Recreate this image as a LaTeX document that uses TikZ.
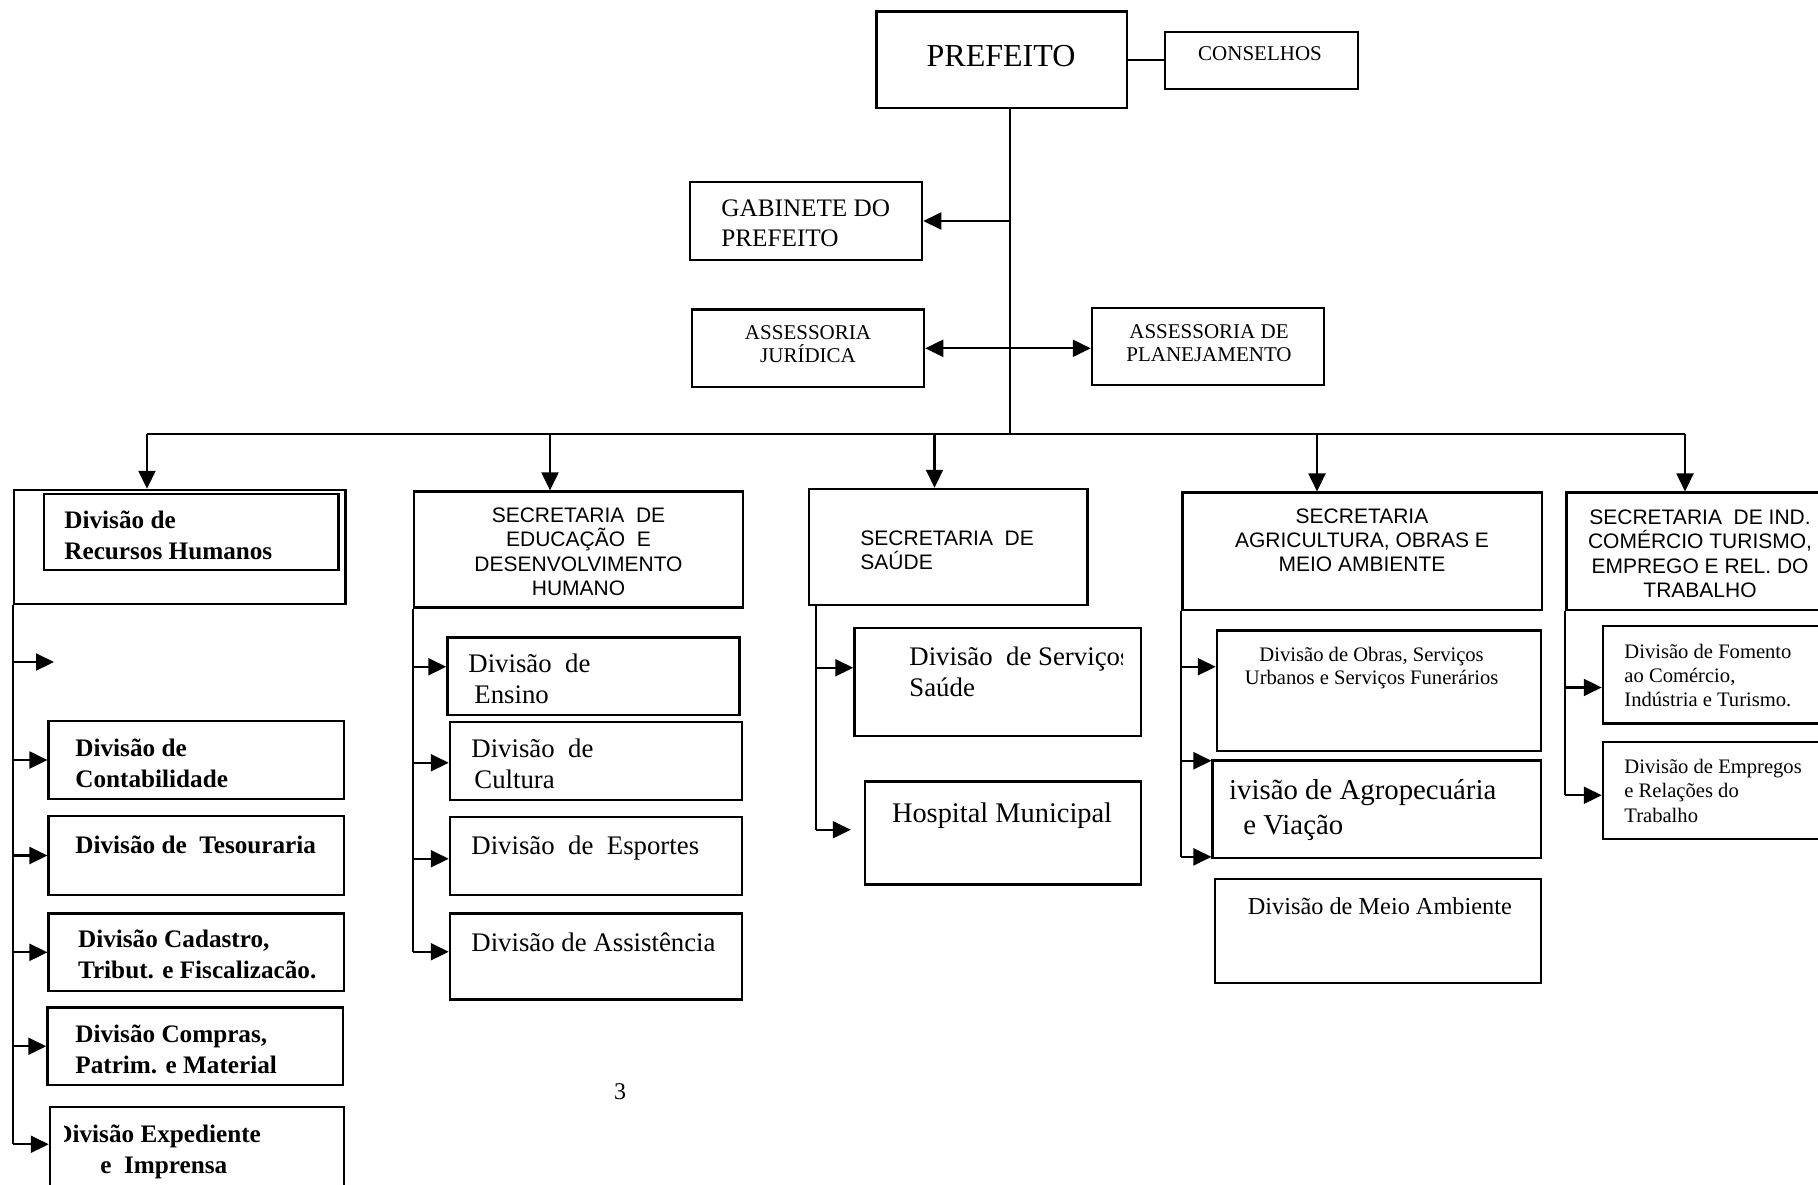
\documentclass[tikz,border=0pt]{standalone}
\usepackage{fontspec}
\setmainfont{Liberation Serif}
\setsansfont{Liberation Sans}
\usetikzlibrary{arrows.meta,calc,fit}
\newcommand\fsz[2]{\fontsize{#1}{#2}\selectfont}
\begin{document}
\begin{tikzpicture}[x=0.5pt,y=-0.5pt,
  bx/.style={draw, line width=1.25pt, inner sep=0pt},
  ln/.style={line width=1.05pt},
  arr/.style={line width=1.05pt, -{Triangle[length=9pt,width=8.5pt]}},
  dbl/.style={line width=1.05pt, {Triangle[length=9pt,width=8.5pt]}-{Triangle[length=9pt,width=8.5pt]}},
  txt/.style={inner sep=0pt, anchor=north west, align=left},
  ctxt/.style={inner sep=0pt, anchor=north, align=center},
  sectxt/.style={ctxt, font=\sffamily\fsz{10.5}{12.15}},
  colA/.style={txt, font=\bfseries\fsz{12.6}{15.3}},
  colB/.style={txt, font=\fsz{13.4}{15.6}},
]
\useasboundingbox (0,0) rectangle (1818,1184);
\fill[white] (0,0) rectangle (1818,1184);
\clip (0,0) rectangle (1818,1184);

% ---------- top boxes
\node[bx, fit={(876.5,11.6) (1127,107.8)}] (pref) {};
\node[bx, fit={(1165,32) (1358,89)}] (cons) {};
\node[bx, fit={(690,182) (922,260)}] (gab) {};
\node[bx, fit={(692,309.6) (924,387)}] (jur) {};
\node[bx, fit={(1092,308) (1324,385)}] (plan) {};

\node[inner sep=0pt, font=\fsz{16}{18}] (tpref) at (1001,56) {PREFEITO};
\node[inner sep=0pt, font=\fsz{10.5}{12}] (tcons) at (1260,53.5) {CONSELHOS};
\node[txt, font=\fsz{12.6}{15}] (tgab) at (721,199.6) {GABINETE DO\\PREFEITO};
\node[ctxt, font=\fsz{10.5}{11.65}] (tjur) at (808,325.1) {ASSESSORIA\\JURÍDICA};
\node[ctxt, font=\fsz{10.5}{11.65}] (tplan) at (1209,324) {ASSESSORIA DE\\PLANEJAMENTO};

% ---------- trunk and bus
\coordinate (trunk) at ($(pref.south)+(8,0)$);
\coordinate (b1) at (147,433.6);
\coordinate (b2) at (550,433.6);
\coordinate (b3) at (934.5,433.6);
\coordinate (b4) at (1317,433.6);
\coordinate (b5) at (1685,433.6);
\draw[ln] (trunk) -- (trunk |- b1);
\draw[ln] (b1) -- (b5);
\draw[ln] (pref.east) -- (pref.east -| cons.west);
\draw[arr] (trunk |- gab.east) -- (gab.east);
\draw[dbl] (jur.east) -- (jur.east -| plan.west);

% ---------- column 1
\node[bx, fit={(14,490) (345.5,604)}] (adm) {};
\node[bx, fit={(44,494) (338.5,570)}] (rh) {};
\node[bx, fit={(48.7,721) (344,799)}] (contab) {};
\node[bx, fit={(48.7,816) (344,895)}] (tesour) {};
\node[bx, fit={(48.7,913.6) (344,991)}] (cadas) {};
\node[bx, fit={(47.5,1007.5) (343,1085)}] (compr) {};
\node[bx, fit={(50,1107) (344,1200)}] (exped) {};

\node[colA] (trh) at (64,511) {Divisão de\\Recursos Humanos};
\node[colA] (tcontab) at (75,739) {Divisão de\\Contabilidade};
\node[colA] (ttesour) at (75,836) {Divisão de\ \ Tesouraria};
\node[colA] (tcadas) at (77.7,930) {Divisão Cadastro,\\Tribut. e Fiscalizacão.};
\node[colA] (tcompr) at (75,1025) {Divisão Compras,\\Patrim. e Material};
\begin{scope}
\clip (64,1100) rectangle (345,1184);
\node[colA] (texped) at (54,1125) {Divisão Expediente\\\hspace*{23pt}e\ \ Imprensa};
\end{scope}

\draw[arr] (b1) -- (b1 |- adm.north);
\coordinate (free1) at (54,662);
\coordinate (expIn) at ($(exped.north west)+(0,38.5)$);
\draw[ln] (adm.south west) -- (adm.west |- expIn);
\draw[arr] (adm.west |- free1) -- (free1);
\draw[arr] (adm.west |- contab.west) -- (contab.west);
\draw[arr] (adm.west |- tesour.west) -- (tesour.west);
\draw[arr] (adm.west |- cadas.west) -- (cadas.west);
\draw[arr] (adm.west |- compr.west) -- (compr.west);
\draw[arr] (adm.west |- expIn) -- (expIn);

% ---------- column 2
\node[bx, fit={(414,491.6) (743,607.5)}] (educ) {};
\node[bx, fit={(447.5,637.7) (739.7,715)}] (ensino) {};
\node[bx, fit={(450,722) (742,800)}] (cultura) {};
\node[bx, fit={(450,817) (742,895)}] (esport) {};
\node[bx, fit={(450,913.6) (742,999.4)}] (assist) {};

\node[sectxt] (teduc) at (578.5,507.4) {SECRETARIA\ \ DE\\EDUCAÇÃO\ \ E\\DESENVOLVIMENTO\\HUMANO};
\node[colB] (tensino) at (468,653.4) {Divisão\ \ de\\\hspace*{3pt}Ensino};
\node[colB] (tcultura) at (471,738.4) {Divisão\ \ de\\\hspace*{1.5pt}Cultura};
\node[colB] (tesport) at (471,835.4) {Divisão\ \ de\ \ Esportes};
\node[colB] (tassist) at (471,932) {Divisão de Assistência};

\draw[arr] (b2) -- (b2 |- educ.north);
\coordinate (ensIn) at ($(ensino.north west)+(0,30.3)$);
\coordinate (culIn) at ($(cultura.north west)+(0,42)$);
\coordinate (espIn) at ($(esport.north west)+(0,43)$);
\coordinate (assIn) at ($(assist.north west)+(0,39.4)$);
\draw[ln] (educ.south west) -- (educ.west |- assIn);
\draw[arr] (educ.west |- ensIn) -- (ensIn);
\draw[arr] (educ.west |- culIn) -- (culIn);
\draw[arr] (educ.west |- espIn) -- (espIn);
\draw[arr] (educ.west |- assIn) -- (assIn);

% ---------- column 3
\node[bx, fit={(809,489) (1087.5,605)}] (saude) {};
\node[bx, fit={(854.5,628) (1141,736)}] (servs) {};
\node[bx, fit={(865,781.5) (1141,884.6)}] (hosp) {};

\node[txt, font=\sffamily\fsz{10.5}{12}] (tsaude) at (860,530.4) {SECRETARIA\ \ DE\\SAÚDE};
\begin{scope}
\clip (servs.north west) rectangle (1122,736);
\node[colB] (tservs) at (909,646.4) {Divisão\ \ de Serviços\\Saúde};
\end{scope}
\node[txt, font=\fsz{14.2}{16}] (thosp) at (891.6,802.8) {Hospital Municipal};

\draw[arr] (b3) -- (b3 |- saude.north);
\coordinate (sp3) at ($(saude.south west)+(8,0)$);
\coordinate (srvIn) at ($(servs.north west)+(0,41)$);
\coordinate (hospIn) at ($(hosp.north west)+(-13,49.5)$);
\draw[ln] (sp3) -- (sp3 |- hospIn);
\draw[arr] (sp3 |- srvIn) -- (srvIn);
\draw[arr] (sp3 |- hospIn) -- (hospIn);

% ---------- column 4
\node[bx, fit={(1182.6,492.7) (1542,610)}] (agric) {};
\node[bx, fit={(1217,630.7) (1541,751)}] (obras) {};
\node[bx, fit={(1212.7,760.6) (1541,858)}] (agro) {};
\node[bx, fit={(1215,879) (1541,983)}] (meio) {};

\node[sectxt, font=\sffamily\fsz{10.5}{12.1}] (tagric) at (1362,508.4) {SECRETARIA\\AGRICULTURA, OBRAS E\\MEIO AMBIENTE};
\node[ctxt, font=\fsz{10.3}{11.5}] (tobras) at (1371.6,646.6) {Divisão de Obras, Serviços\\Urbanos e Serviços Funerários};
\begin{scope}
\clip (1230,765) rectangle (1540,856);
\node[txt, font=\fsz{14.4}{17.2}] (tagro) at (1208,779.2) {Divisão de Agropecuária\\\hspace*{17.5pt}e Viação};
\end{scope}
\node[txt, font=\fsz{12.15}{14}] (tmeio) at (1247.5,896.8) {Divisão de Meio Ambiente};

\draw[arr] (b4) -- (b4 |- agric.north);
\coordinate (obrIn) at ($(obras.north west)+(0,37.3)$);
\coordinate (agrIn1) at ($(agro.north west)+(0,1.4)$);
\coordinate (agrIn2) at ($(agro.south west)+(0,-2.4)$);
\draw[ln] (agric.south west) -- (agric.west |- agrIn2);
\draw[arr] (agric.west |- obrIn) -- (obrIn);
\draw[arr] (agric.west |- agrIn1) -- (agrIn1);
\draw[arr] (agric.west |- agrIn2) -- (agrIn2);

% ---------- column 5
\node[bx, fit={(1566.4,492.7) (1834,610)}] (ind) {};
\node[bx, fit={(1603,626) (1834,723.5)}] (fomento) {};
\node[bx, fit={(1603,742) (1834,839)}] (empreg) {};

\node[sectxt, font=\sffamily\fsz{10.5}{12.2}] (tind) at (1700,509.4) {SECRETARIA\ \ DE IND.\\COMÉRCIO TURISMO,\\EMPREGO E REL. DO\\TRABALHO};
\node[txt, font=\fsz{10.3}{11.8}] (tfomento) at (1624,644.2) {Divisão de Fomento\\ao Comércio,\\Indústria e Turismo.};
\node[txt, font=\fsz{10.3}{12.2}] (tempreg) at (1624,758.6) {Divisão de Empregos\\e Relações do\\Trabalho};

\draw[arr] (b5) -- (b5 |- ind.north);
\coordinate (fomIn) at ($(fomento.north west)+(0,62.7)$);
\coordinate (empIn) at ($(empreg.north west)+(0,54.5)$);
\draw[ln] (ind.south west) -- (ind.west |- empIn);
\draw[arr] (ind.west |- fomIn) -- (fomIn);
\draw[arr] (ind.west |- empIn) -- (empIn);

% ---------- page number
\node[inner sep=0pt, font=\fsz{12}{14}] (pagenum) at (620,1092) {3};
\end{tikzpicture}
\end{document}
